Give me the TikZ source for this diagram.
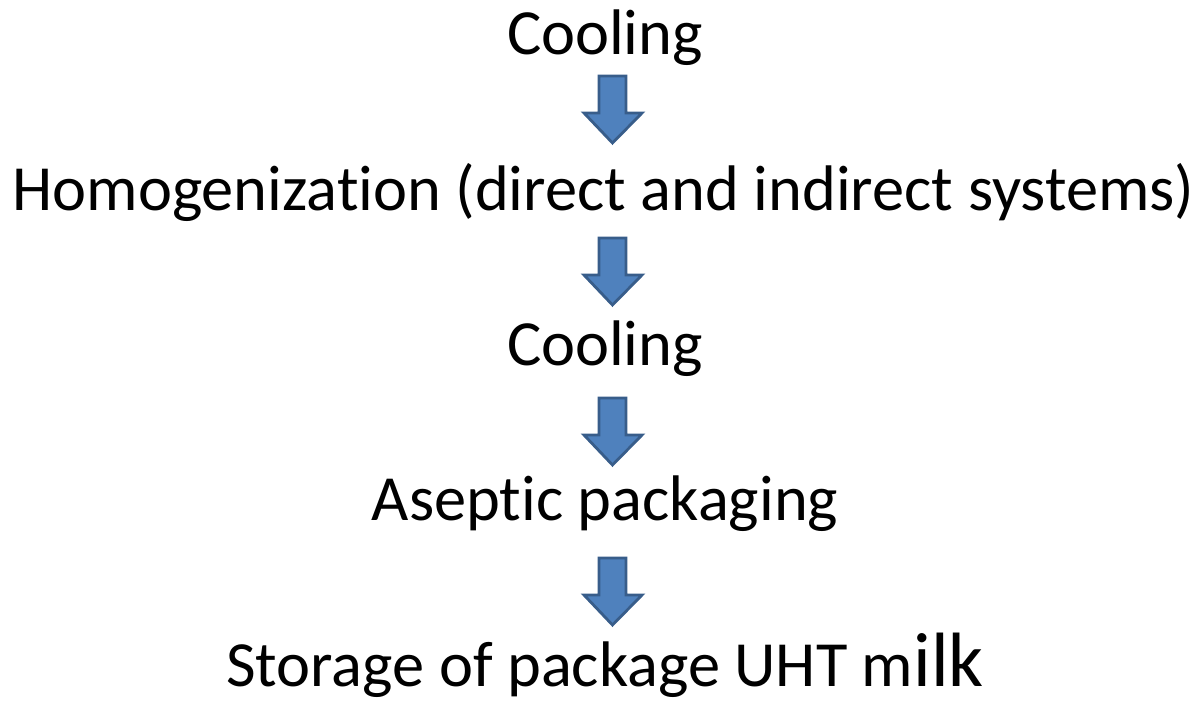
\documentclass[tikz,border=0pt]{standalone}
\usepackage{fontspec}
\setmainfont{Carlito}[Ligatures=NoCommon]
\begin{document}
\begin{tikzpicture}[x=1pt,y=-1pt,
  lbl/.style={anchor=base,inner sep=0pt,font=\fontsize{64.4}{70}\selectfont},
  barrow/.style={fill={rgb,255:red,79;green,129;blue,189},draw={rgb,255:red,56;green,93;blue,138},line width=2.8pt,line join=miter}]
\useasboundingbox (0,0) rectangle (1202,701);
\node[lbl] (t1) at (605,55) {Cooling};
\node[lbl] (t2) at (603.5,210) {Homogenization (direct and indirect systems)};
\node[lbl] (t3) at (605,365) {Cooling};
\node[lbl] (t4) at (605,520) {Aseptic packaging};
\node[lbl] (t5) at (605,686) {Storage of package UHT m{\fontsize{77}{80}\selectfont ilk}};
\foreach \y in {76,238,398,558}{
  \draw[barrow] (599,\y) -- (626,\y) -- (626,\y+37) -- (642,\y+37) -- (612.5,\y+67) -- (584,\y+37) -- (599,\y+37) -- cycle;
}
\end{tikzpicture}
\end{document}
